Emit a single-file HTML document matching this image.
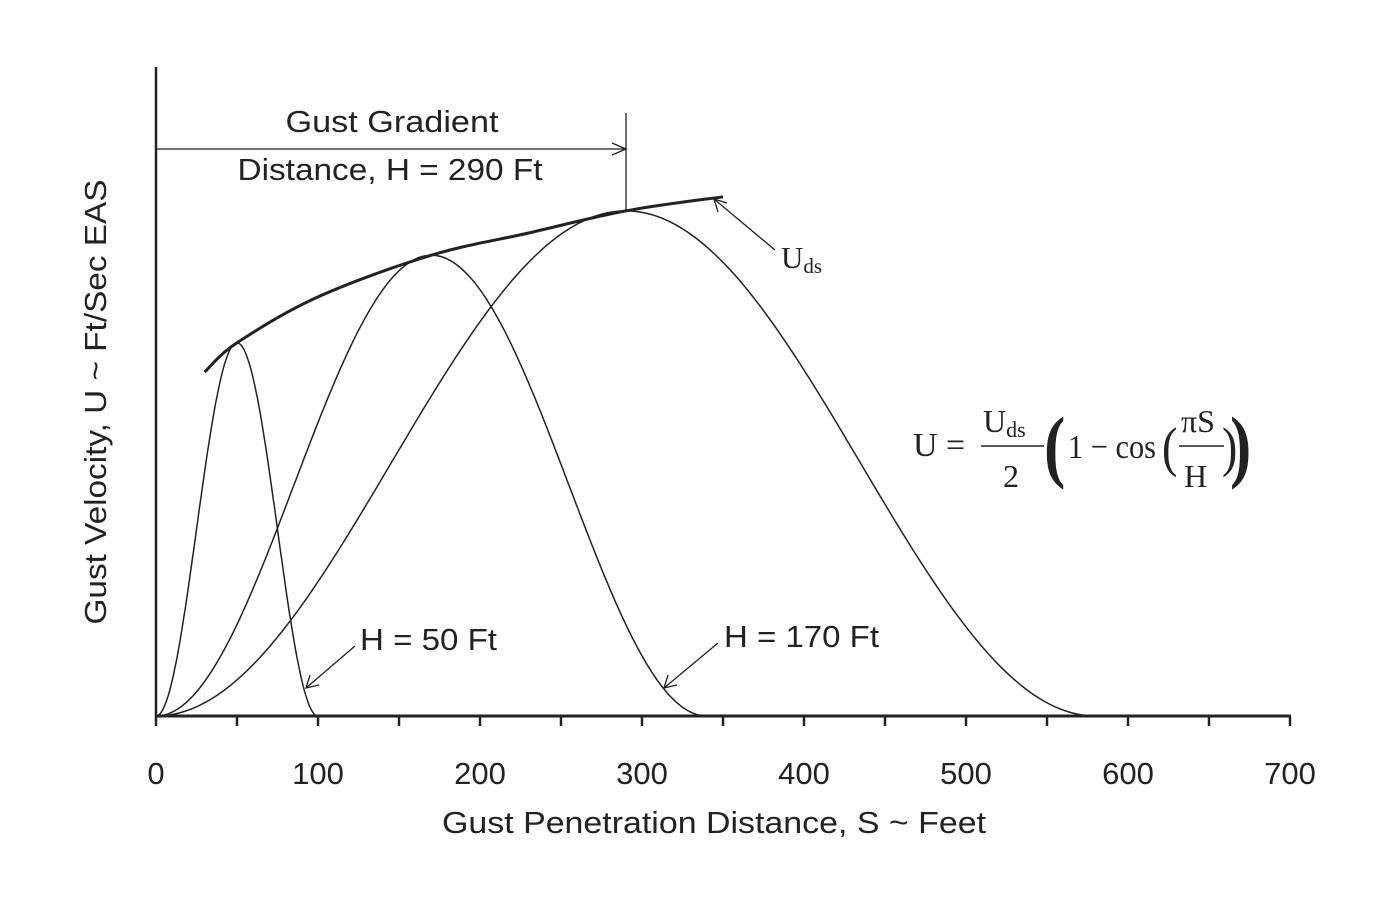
<!DOCTYPE html>
<html><head><meta charset="utf-8">
<style>
html,body{margin:0;padding:0;background:#fff;}
svg{display:block;}
text{font-family:"Liberation Sans",sans-serif;fill:#222;}
.serif{font-family:"Liberation Serif",serif;}
</style></head>
<body>
<svg id="chart" width="1380" height="899" viewBox="0 0 1380 899">
<g id="axes"></g>
<g id="curves"></g>
<g id="annot">
  <text x="392" y="132" font-size="31" text-anchor="middle" textLength="213" lengthAdjust="spacingAndGlyphs">Gust Gradient</text>
  <text x="390" y="180" font-size="31" text-anchor="middle" textLength="305" lengthAdjust="spacingAndGlyphs">Distance, H = 290 Ft</text>
  <line x1="156" y1="149" x2="626" y2="149" stroke="#222" stroke-width="1.3"/>
  <path d="M612,143 L626,149 L612,155" fill="none" stroke="#222" stroke-width="1.3"/>
  <line x1="626" y1="113" x2="626" y2="211" stroke="#222" stroke-width="1.3"/>
  <line x1="775" y1="250" x2="714" y2="199" stroke="#222" stroke-width="1.3"/>
  <path d="M718,212 L714,199 L727,203" fill="none" stroke="#222" stroke-width="1.3"/>
  <text class="serif" x="781" y="268" font-size="31">U<tspan font-size="21" dy="5">ds</tspan></text>
  <line x1="355" y1="646" x2="306" y2="688" stroke="#222" stroke-width="1.3"/>
  <path d="M310,675 L306,688 L319,685" fill="none" stroke="#222" stroke-width="1.3"/>
  <text x="360" y="650" font-size="31" textLength="137" lengthAdjust="spacingAndGlyphs">H = 50 Ft</text>
  <line x1="718" y1="643" x2="664" y2="688" stroke="#222" stroke-width="1.3"/>
  <path d="M668,675 L664,688 L677,685" fill="none" stroke="#222" stroke-width="1.3"/>
  <text x="724" y="647" font-size="31" textLength="155" lengthAdjust="spacingAndGlyphs">H = 170 Ft</text>
  <g class="serif">
    <text class="serif" x="913" y="456" font-size="34">U =</text>
    <text class="serif" x="983" y="432" font-size="32">U<tspan font-size="22" dy="5">ds</tspan></text>
    <line x1="981" y1="446" x2="1044" y2="446" stroke="#222" stroke-width="1.5"/>
    <text class="serif" x="1003" y="487" font-size="32">2</text>
    <text class="serif" x="1044" y="478" font-size="64" font-weight="bold" transform="scale(1,1.25) translate(0,-100)">(</text>
    <text class="serif" x="1068" y="458" font-size="34" textLength="88" lengthAdjust="spacingAndGlyphs">1 − cos</text>
    <text class="serif" x="1162" y="470" font-size="46" transform="scale(1,1.2) translate(0,-82)">(</text>
    <text class="serif" x="1181" y="432" font-size="32">πS</text>
    <line x1="1179" y1="446" x2="1224" y2="446" stroke="#222" stroke-width="1.5"/>
    <text class="serif" x="1184" y="487" font-size="32">H</text>
    <text class="serif" x="1222" y="470" font-size="46" transform="scale(1,1.2) translate(0,-82)">)</text>
    <text class="serif" x="1230" y="478" font-size="64" font-weight="bold" transform="scale(1,1.25) translate(0,-100)">)</text>
  </g>
  <text x="714" y="833" font-size="31" text-anchor="middle" textLength="544" lengthAdjust="spacingAndGlyphs">Gust Penetration Distance, S ~ Feet</text>
  <text x="0" y="0" font-size="31" text-anchor="middle" textLength="445" lengthAdjust="spacingAndGlyphs" transform="translate(106,402) rotate(-90)">Gust Velocity, U ~ Ft/Sec EAS</text>
</g>
</svg>
<script>
const gustH = [50, 170, 290];
const gustPeak = [69, 85.2, 93.4];
const envS = [30, 50, 100, 170, 230, 290, 350];
const envU = [63.6, 69, 77.5, 85.2, 89.3, 93.4, 96];
const xTickLabels = [0, 100, 200, 300, 400, 500, 600, 700];

const X0 = 156, X1 = 1290, XMAX = 700, Y0 = 716, YTOP = 67, YMAX = 120;
const sx = s => X0 + s * (X1 - X0) / XMAX;
const sy = u => Y0 - u * (Y0 - YTOP) / YMAX;
const NS = 'http://www.w3.org/2000/svg';
const mk = (t, a, p) => { const e = document.createElementNS(NS, t); for (const k in a) e.setAttribute(k, a[k]); p.appendChild(e); return e; };

const axes = document.getElementById('axes');
let e = mk('line', {x1: X0, y1: YTOP, x2: X0, y2: Y0, stroke: '#222', 'stroke-width': 2.5}, axes);


e = mk('line', {x1: X0 - 1, y1: Y0, x2: X1 + 1, y2: Y0, stroke: '#222', 'stroke-width': 3}, axes);


for (let s = 0; s <= XMAX; s += 50) {
  e = mk('line', {x1: sx(s), y1: Y0, x2: sx(s), y2: Y0 + 10, stroke: '#222', 'stroke-width': 2.5}, axes);
  
  
}
xTickLabels.forEach(v => {
  const t = mk('text', {x: sx(v), y: 784, 'font-size': 31, 'text-anchor': 'middle'}, axes);
  t.textContent = v;
  
  
});

const curves = document.getElementById('curves');
gustH.forEach((H, i) => {
  let d = '';
  for (let k = 0; k <= 200; k++) {
    const s = 2 * H * k / 200;
    const u = gustPeak[i] / 2 * (1 - Math.cos(Math.PI * s / H));
    d += (k ? 'L' : 'M') + sx(s).toFixed(1) + ',' + sy(u).toFixed(1);
  }
  const p = mk('path', {d, fill: 'none', stroke: '#222', 'stroke-width': 1.5}, curves);
  
  
});
const pts = envS.map((s, i) => [sx(s), sy(envU[i])]);
let d = 'M' + pts[0][0].toFixed(1) + ',' + pts[0][1].toFixed(1);
for (let i = 0; i < pts.length - 1; i++) {
  const p0 = pts[Math.max(i - 1, 0)], p1 = pts[i], p2 = pts[i + 1], p3 = pts[Math.min(i + 2, pts.length - 1)];
  const c1 = [p1[0] + (p2[0] - p0[0]) / 6, p1[1] + (p2[1] - p0[1]) / 6];
  const c2 = [p2[0] - (p3[0] - p1[0]) / 6, p2[1] - (p3[1] - p1[1]) / 6];
  d += 'C' + c1.map(v => v.toFixed(1)).join(',') + ' ' + c2.map(v => v.toFixed(1)).join(',') + ' ' + p2.map(v => v.toFixed(1)).join(',');
}
const env = mk('path', {d, fill: 'none', stroke: '#222', 'stroke-width': 3, 'stroke-linejoin': 'round'}, curves);


</script>
</body></html>
